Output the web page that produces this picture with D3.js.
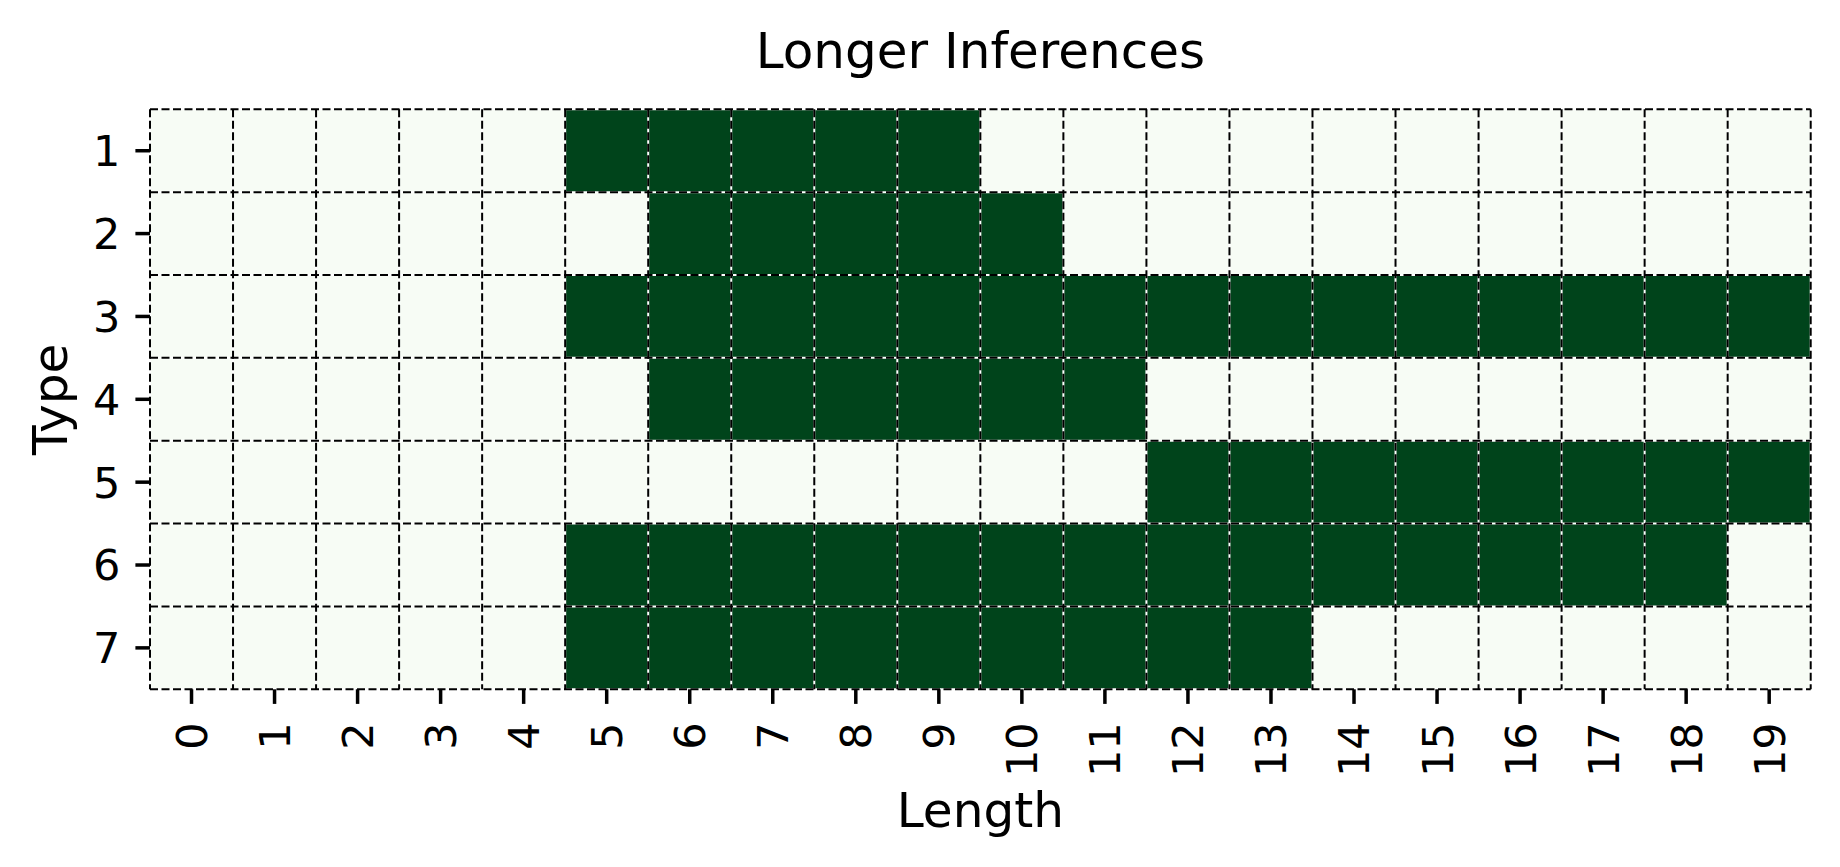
<!DOCTYPE html>
<html>
<head>
<meta charset="utf-8">
<script src="https://cdn.jsdelivr.net/npm/d3@7"></script>
<style>
  body { margin: 0; background: #fff; }
  text { font-family: "DejaVu Sans", sans-serif; fill: #000; }
</style>
</head>
<body>
<script>
var lengths = d3.range(0, 20);
var types = [1, 2, 3, 4, 5, 6, 7];
// 1 = dark cell, 0 = light cell; one row per type
var row1 = [0,0,0,0,0,1,1,1,1,1,0,0,0,0,0,0,0,0,0,0];
var row2 = [0,0,0,0,0,0,1,1,1,1,1,0,0,0,0,0,0,0,0,0];
var row3 = [0,0,0,0,0,1,1,1,1,1,1,1,1,1,1,1,1,1,1,1];
var row4 = [0,0,0,0,0,0,1,1,1,1,1,1,0,0,0,0,0,0,0,0];
var row5 = [0,0,0,0,0,0,0,0,0,0,0,0,1,1,1,1,1,1,1,1];
var row6 = [0,0,0,0,0,1,1,1,1,1,1,1,1,1,1,1,1,1,1,0];
var row7 = [0,0,0,0,0,1,1,1,1,1,1,1,1,1,0,0,0,0,0,0];
var rows = [row1, row2, row3, row4, row5, row6, row7];

var w = 1840, h = 867;
var plotL = 150, plotR = 1810.7, plotT = 109.3, plotB = 689.3;

var cells = [];
rows.forEach(function (r, i) {
    r.forEach(function (v, j) { cells.push({ type: types[i], len: lengths[j], v: v }); });
});

var svg = d3.select("body").append("svg").attr("width", w).attr("height", h);

var x = d3.scaleBand().domain(lengths).range([plotL, plotR]).padding(0);
var y = d3.scaleBand().domain(types).range([plotT, plotB]).padding(0);
var color = d3.scaleLinear().domain([0, 1]).range(["#f7fcf5", "#00441b"]);

// cells
svg.append("g").selectAll("rect")
    .data(cells)
    .enter()
    .append("rect")
    .attr("x", function (d) { return x(d.len); })
    .attr("y", function (d) { return y(d.type); })
    .attr("width", x.bandwidth() + 0.5)
    .attr("height", y.bandwidth() + 0.5)
    .attr("fill", function (d) { return color(d.v); })
    .attr("shape-rendering", "crispEdges");

// grid lines: white under, black dashes on top
var vx = lengths.map(function (d) { return x(d); }).concat([plotR]);
var hy = types.map(function (d) { return y(d); }).concat([plotB]);
[["#fff", null], ["#000", "8,3.5"]].forEach(function (s) {
    var g = svg.append("g");
    g.selectAll("line.v").data(vx).enter().append("line")
        .attr("x1", function (d) { return d; }).attr("x2", function (d) { return d; })
        .attr("y1", plotT).attr("y2", plotB)
        .attr("stroke", s[0]).attr("stroke-width", 2)
        .attr("stroke-dasharray", s[1]);
    g.selectAll("line.h").data(hy).enter().append("line")
        .attr("y1", function (d) { return d; }).attr("y2", function (d) { return d; })
        .attr("x1", plotL).attr("x2", plotR)
        .attr("stroke", s[0]).attr("stroke-width", 2)
        .attr("stroke-dasharray", s[1]);
});

// x axis
var xAxis = d3.axisBottom(x).tickSize(14.6).tickPadding(0);
var gx = svg.append("g").attr("transform", "translate(0," + plotB + ")").call(xAxis);
gx.select(".domain").remove();
gx.selectAll(".tick line").attr("stroke", "#000").attr("stroke-width", 3.5);
gx.selectAll(".tick text")
    .attr("font-size", "43px")
    .attr("font-family", "DejaVu Sans")
    .attr("text-anchor", "end")
    .attr("transform", "translate(0,33) rotate(-90)")
    .attr("x", 0).attr("y", 0).attr("dy", "0.36em");

// y axis
var yAxis = d3.axisLeft(y).tickSize(14.6).tickPadding(15);
var gy = svg.append("g").attr("transform", "translate(" + plotL + ",0)").call(yAxis);
gy.select(".domain").remove();
gy.selectAll(".tick line").attr("stroke", "#000").attr("stroke-width", 3.5);
gy.selectAll(".tick text")
    .attr("font-size", "43px")
    .attr("font-family", "DejaVu Sans")
    .attr("dy", "0.36em");

// titles
svg.append("text").text("Longer Inferences")
    .attr("x", (plotL + plotR) / 2).attr("y", 68.3)
    .attr("text-anchor", "middle").attr("font-size", "50px");

svg.append("text").text("Length")
    .attr("x", (plotL + plotR) / 2).attr("y", 826.7)
    .attr("text-anchor", "middle").attr("font-size", "48.5px");

svg.append("text").text("Type")
    .attr("transform", "translate(67," + (plotT + plotB) / 2 + ") rotate(-90)")
    .attr("text-anchor", "middle").attr("font-size", "48.5px");
</script>
</body>
</html>
